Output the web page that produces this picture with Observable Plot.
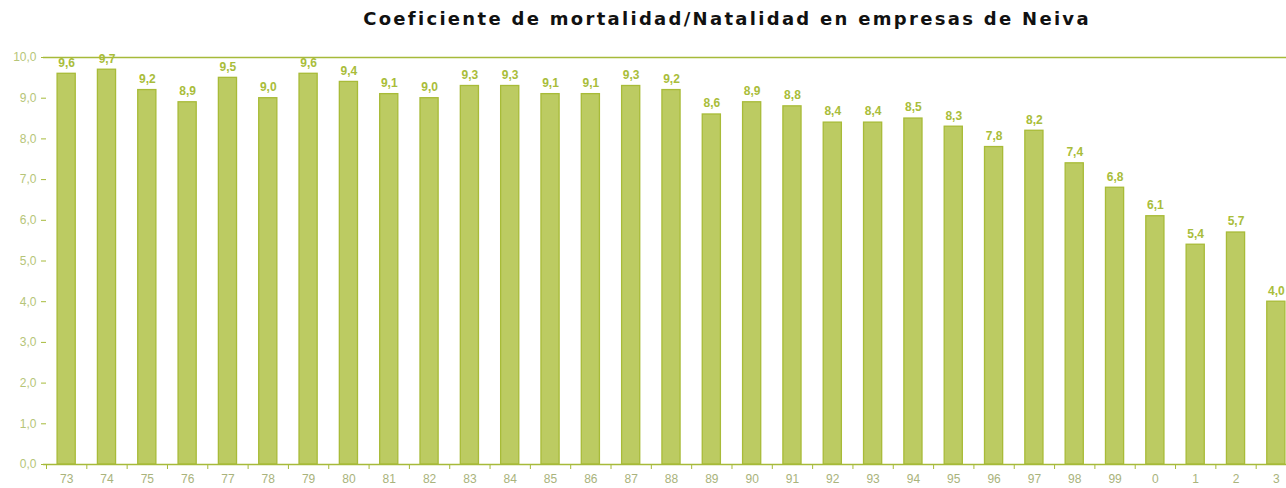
<!DOCTYPE html>
<html>
<head>
<meta charset="utf-8">
<script src="https://cdn.jsdelivr.net/npm/d3@7"></script>
<script src="https://cdn.jsdelivr.net/npm/@observablehq/plot@0.6"></script>
<style>
  body { margin: 0; background: #fff; width: 1286px; overflow: hidden; }
  #title { height: 38px; line-height: 38px; font-family: "DejaVu Sans", sans-serif; font-weight: bold; font-size: 18px; letter-spacing: 2.3px; color: #111; text-align: center; padding-left: 168px; box-sizing: border-box; white-space: nowrap; }
</style>
</head>
<body>
<div id="title">Coeficiente de mortalidad/Natalidad en empresas de Neiva</div>
<div id="chart"></div>
<script>
const years = ["73","74","75","76","77","78","79","80","81","82","83","84","85","86","87","88","89","90","91","92","93","94","95","96","97","98","99","0","1","2","3"];
const values = [9.6,9.7,9.2,8.9,9.5,9.0,9.6,9.4,9.1,9.0,9.3,9.3,9.1,9.1,9.3,9.2,8.6,8.9,8.8,8.4,8.4,8.5,8.3,7.8,8.2,7.4,6.8,6.1,5.4,5.7,4.0];
const yTicks = [0,1,2,3,4,5,6,7,8,9,10];

const data = years.map((y, i) => ({year: y, value: values[i]}));
const fmt = d => d.toFixed(1).replace(".", ",");
const green = "#a6ba3a";
const light = "#b6c578";

const chart = Plot.plot({
  width: 1286,
  height: 450,
  marginLeft: 46,
  marginRight: -10,
  marginTop: 19,
  marginBottom: 24,
  style: {fontFamily: "Liberation Sans, Arial, sans-serif", background: "#fff"},
  x: {domain: years, paddingInner: 0.55, paddingOuter: 0.275, round: false, label: null},
  y: {domain: [0, 10], label: null},
  marks: [
    Plot.axisY({ticks: yTicks, tickFormat: fmt, tickSize: 5, tickPadding: 5, stroke: green, color: light, fontSize: 12, label: null}),
    Plot.axisX({tickSize: 5, tickFormat: () => "", dx: -20.16, stroke: green, label: null}),
    Plot.axisX({tickSize: 0, tickPadding: 10, color: "#a9b37c", fontSize: 12, label: null}),
    Plot.barY(data, {x: "year", y: "value", fill: "#bccb62", stroke: "#a8bb38", strokeWidth: 1.3}),
    Plot.ruleY([0, 10], {stroke: green, strokeWidth: 1.3, insetLeft: -3}),
    Plot.text(data, {x: "year", y: "value", text: d => fmt(d.value), dy: -11, fill: "#a9bd3a", fontSize: 12, fontWeight: "bold"})
  ]
});
document.getElementById("chart").appendChild(chart);
</script>
</body>
</html>
